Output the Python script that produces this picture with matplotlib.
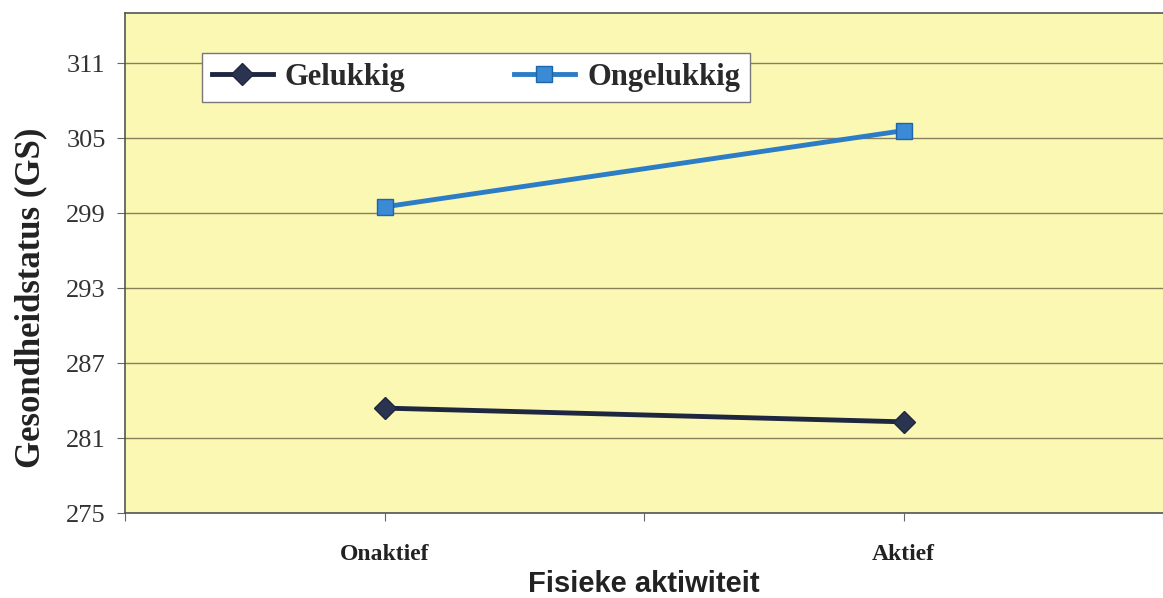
import matplotlib
matplotlib.use("Agg")
import matplotlib.pyplot as plt

categories = ["Onaktief", "Aktief"]
gelukkig = [283.4, 282.3]
ongelukkig = [299.5, 305.6]
yticks = [275, 281, 287, 293, 299, 305, 311]

fig = plt.figure(figsize=(11.63, 5.98), dpi=100)
ax = fig.add_axes([0.1075, 0.142, 0.8925, 0.836])
ax.set_facecolor("#FBF8B4")

x = list(range(len(categories)))
ax.plot(x, gelukkig, color="#1E2640", lw=3.5, marker="D", ms=11,
        mfc="#2A3450", mec="#1E2640", label="Gelukkig")
ax.plot(x, ongelukkig, color="#2D7CC6", lw=3.5, marker="s", ms=12,
        mfc="#3A8AD6", mec="#1F66A8", label="Ongelukkig")

ax.set_xlim(-0.5, 1.5)
ax.set_ylim(275, 315)
ax.set_yticks(yticks)
ax.set_yticklabels([str(v) for v in yticks], family="Liberation Serif", fontsize=19, color="#333333")
ax.set_xticks([-0.5, 0, 0.5, 1, 1.5])
ax.set_xticklabels(["", categories[0], "", categories[1], ""],
                   family="Liberation Serif", fontsize=17, fontweight="bold", color="#222222")
ax.tick_params(axis="x", length=6, pad=16, color="#666666")
ax.tick_params(axis="y", length=6, pad=8, color="#666666")
ax.grid(axis="y", color="#8A7F5A", lw=1)
ax.set_axisbelow(True)
for side in ["left", "bottom", "top"]:
    ax.spines[side].set_color("#555555")
    ax.spines[side].set_linewidth(1.2)
ax.spines["right"].set_visible(False)

ax.set_ylabel("Gesondheidstatus (GS)", family="Liberation Serif", fontsize=25,
              fontweight="bold", color="#222222")
ax.yaxis.set_label_coords(-0.075, 0.43)
ax.set_xlabel("Fisieke aktiwiteit", family="Liberation Sans", fontsize=21,
              fontweight="bold", color="#222222", labelpad=4)

leg = ax.legend(loc="upper left", bbox_to_anchor=(0.074, 0.83, 0.528, 0.09), ncol=2,
                mode="expand",
                prop={"family": "Liberation Serif", "size": 22, "weight": "bold"},
                frameon=True, fancybox=False, edgecolor="#777777",
                handlelength=2.0, handletextpad=0.4, columnspacing=1.8,
                borderpad=0.32, borderaxespad=0)
leg.get_frame().set_facecolor("white")
leg.get_frame().set_alpha(1)
for t in leg.get_texts():
    t.set_color("#2A2A2A")

fig.savefig("out.png", dpi=100)
